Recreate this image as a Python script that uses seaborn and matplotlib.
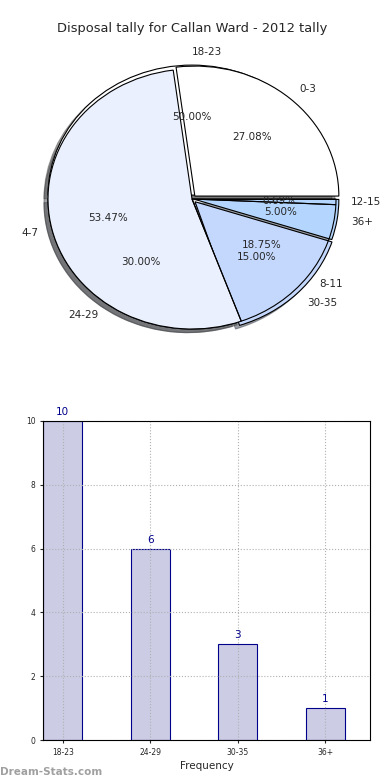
import matplotlib
matplotlib.use("Agg")
import matplotlib.pyplot as plt
import matplotlib.patches as mpatches
import seaborn as sns
import pandas as pd

# disposal counts per game, two groupings
low_ranges = ["0-3", "4-7", "8-11", "12-15"]
low_counts = [39, 77, 27, 1]
high_ranges = ["18-23", "24-29", "30-35", "36+"]
high_counts = [10, 6, 3, 1]

pie_colors = ["#ffffff", "#eaf0fd", "#c4d8fe", "#b3d5fe"]

sns.set_style("whitegrid", {"grid.linestyle": ":", "grid.color": "#b0b0b0",
                            "axes.edgecolor": "black"})
plt.rcParams["font.family"] = ["DejaVu Sans"]

fig = plt.figure(figsize=(3.9, 7.8), dpi=100)

# -----------------------------
# Pie (two tallies overlaid)
# -----------------------------
ax1 = fig.add_axes([12 / 390, 1 - 361.5 / 780, 360 / 390, 325 / 780])
w2, t2, a2 = ax1.pie(high_counts, labels=high_ranges, colors=pie_colors,
                     explode=[0.03, 0, 0.03, 0.02], autopct="%.2f%%", shadow=True,
                     startangle=0, wedgeprops={"edgecolor": "black", "linewidth": 0.8},
                     textprops={"fontsize": 7.5})
t2[0].set_ha("left")
w1, t1, a1 = ax1.pie(low_counts, labels=low_ranges, colors=["#ffffff", "#eaf0fd", "none", "none"],
                     explode=[0.03, 0, 0, 0], autopct="%.2f%%", shadow=True, startangle=0,
                     wedgeprops={"edgecolor": "black", "linewidth": 0.8},
                     textprops={"fontsize": 7.5})
# drop shadows of the see-through wedges
for p in list(ax1.patches):
    if isinstance(p, mpatches.Shadow) and p.patch in (w1[2], w1[3]):
        p.remove()
ax1.set_aspect("auto")
ax1.set_xlim(-1.25, 1.25)
ax1.set_ylim(-1.25, 1.25)
ax1.set_title("Disposal tally for Callan Ward - 2012 tally", fontsize=9.4, pad=3)

# -----------------------------
# Bar chart
# -----------------------------
df = pd.DataFrame({"range": high_ranges, "games": high_counts})
ax2 = fig.add_axes([43 / 390, 1 - 740 / 780, 327 / 390, 319 / 780])
sns.barplot(data=df, x="range", y="games", ax=ax2, width=0.45, color="#ccccE5",
            saturation=1, edgecolor="#00008b", linewidth=0.8, zorder=2)
for i, v in enumerate(high_counts):
    ax2.text(i, v + 0.12, str(v), ha="center", va="bottom", color="#00008b", fontsize=7.5)
ax2.set_xlim(-0.225, 3.51)
ax2.set_ylim(0, 10)
ax2.set_yticks([0, 2, 4, 6, 8, 10])
ax2.tick_params(labelsize=5.5, length=2, left=True, bottom=True)
ax2.grid(True, axis="both", linestyle=":", color="#b0b0b0", zorder=3)
ax2.set_axisbelow(False)
for s in ax2.spines.values():
    s.set_edgecolor("black")
    s.set_linewidth(0.8)
    s.set_zorder(5)
ax2.set_xlabel("Frequency", fontsize=7.5, labelpad=3)
ax2.set_ylabel("Occurrences", fontsize=7.5, labelpad=20)

fig.text(0.0, 0.006, "Dream-Stats.com", color="#a0a0a0", fontsize=7.5, fontweight="bold")

fig.savefig("out.png", dpi=100)
